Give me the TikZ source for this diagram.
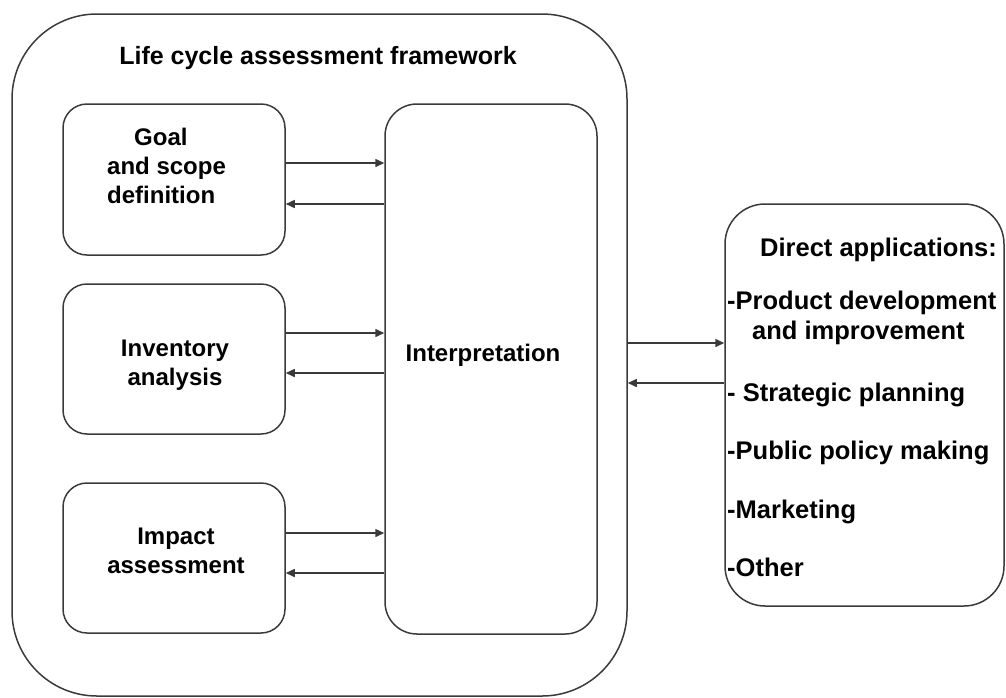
\documentclass[tikz,border=0pt]{standalone}
\usepackage{fontspec}
\setmainfont{Liberation Sans}
\usetikzlibrary{arrows.meta}
\definecolor{linec}{HTML}{3A3A3A}
\begin{document}
\begin{tikzpicture}[x=1pt,y=-1pt,
  box/.style={draw=linec, line width=1.5pt, rounded corners=#1, inner sep=0pt},
  lbl/.style={font=\fontsize{24}{29}\selectfont\bfseries, text=black, inner sep=0pt},
  item/.style={lbl, font=\fontsize{25.5}{30}\selectfont\bfseries, anchor=west, text height=18pt, text depth=5pt},
  arr/.style={draw=linec, line width=1.5pt, -{Triangle[length=9pt,width=8pt]}}]
\useasboundingbox (0,0) rectangle (1006,697);
% boxes
\node[box=85pt, minimum width=615pt, minimum height=682pt] (outer) at (319.5,355) {};
\node[box=24pt, minimum width=222pt, minimum height=151pt] (goal) at (174,179.5) {};
\node[box=24pt, minimum width=222pt, minimum height=150pt] (inv) at (174,359) {};
\node[box=24pt, minimum width=222pt, minimum height=150pt] (imp) at (174,558) {};
\node[box=32pt, minimum width=212pt, minimum height=530pt] (interp) at (491,369) {};
\node[box=40pt, minimum width=279pt, minimum height=402pt] (apps) at (864.5,405) {};
% texts
\node[lbl, font=\fontsize{25}{30}\selectfont\bfseries] (title) at (318,58) {Life cycle assessment framework};
\node[lbl, align=left, anchor=west] (goalt) at (107,166) {\hspace*{27pt}Goal\\and scope\\definition};
\node[lbl, align=center] (invt) at (175,365) {Inventory\\analysis};
\node[lbl, align=center] (impt) at (176,551) {Impact\\assessment};
\node[lbl] (interpt) at (483,355) {Interpretation};
\node[item] (a0) at (760,250) {Direct applications:};
\node[item] (a1) at (727,303) {-Product development};
\node[item] (a2) at (752,333) {and improvement};
\node[item] (a3) at (727,395) {- Strategic planning};
\node[item] (a4) at (727,453) {-Public policy making};
\node[item] (a5) at (727,512) {-Marketing};
\node[item] (a6) at (727,570) {-Other};
% arrows
\draw[arr] ([yshift=16.5pt]goal.east) -- ([yshift=16.5pt]goal.east -| interp.west);
\draw[arr] ([yshift=-24.5pt]goal.east -| interp.west) -- ([yshift=-24.5pt]goal.east);
\draw[arr] ([yshift=26pt]inv.east) -- ([yshift=26pt]inv.east -| interp.west);
\draw[arr] ([yshift=-14pt]inv.east -| interp.west) -- ([yshift=-14pt]inv.east);
\draw[arr] ([yshift=25pt]imp.east) -- ([yshift=25pt]imp.east -| interp.west);
\draw[arr] ([yshift=-15pt]imp.east -| interp.west) -- ([yshift=-15pt]imp.east);
\draw[arr] ([yshift=12pt]outer.east) -- ([yshift=12pt]outer.east -| apps.west);
\draw[arr] ([yshift=-28pt]outer.east -| apps.west) -- ([yshift=-28pt]outer.east);
\end{tikzpicture}
\end{document}
